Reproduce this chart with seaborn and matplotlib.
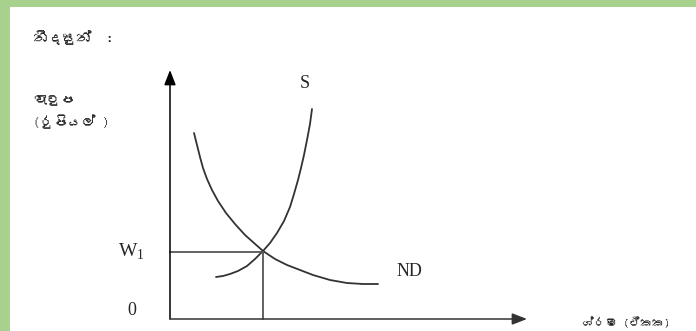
import matplotlib
matplotlib.use("Agg")
import matplotlib.pyplot as plt
import matplotlib.font_manager as fm
import seaborn as sns
import pandas as pd
from fontTools.ttLib import TTFont

# supply (S) and labour demand (ND) curves
# quantity of labour / wage, origin at the corner of the axes
s_qty = [46, 53, 60, 68, 77, 85, 93, 100, 107, 114, 120, 124, 128, 131, 134, 137, 140, 142]
s_wage = [42, 43, 45, 48, 53, 60, 68, 76, 86, 98, 112, 125, 139, 151, 164, 179, 195, 210]
nd_qty = [24, 27, 30, 33, 37, 42, 48, 56, 65, 75, 84, 93, 105, 117, 130, 143, 160, 177, 193, 208]
nd_wage = [186, 174, 162, 151, 140, 129, 118, 106, 95, 84, 76, 68, 60, 54, 49, 44, 39, 36, 35, 35]
eq_qty, eq_wage = 93, 67

title_txt = "නිදසුන්  :"
ylab_txt = ["වැටුප", "(රුපියල් )"]
xlab_txt = "ශ්රම (ඒකක)"


def find_sinhala():
    for f in fm.fontManager.ttflist:
        try:
            cmap = TTFont(f.fname, fontNumber=0, lazy=True).getBestCmap()
            if cmap and 0x0DB1 in cmap:
                return f.name
        except Exception:
            pass
    return None


sin_font = find_sinhala()
sin_family = [sin_font, "DejaVu Sans"] if sin_font else ["DejaVu Sans"]

sns.set_style("white")
plt.rcParams["mathtext.fontset"] = "custom"
plt.rcParams["mathtext.rm"] = "Liberation Serif"

fig = plt.figure(figsize=(6.96, 3.31), dpi=100, facecolor="#a9d18e")
ax = fig.add_axes([10 / 696, 0, 686 / 696, 324 / 331])
ax.set_facecolor("white")
ax.set_xlim(-160, 526)
ax.set_ylim(-12, 312)
ax.axis("off")
ax.add_patch(plt.Rectangle((-160, -12), 686, 324, color="white", zorder=0))

s_df = pd.DataFrame({"q": s_qty, "w": s_wage})
nd_df = pd.DataFrame({"q": nd_qty, "w": nd_wage})
sns.lineplot(data=s_df, x="q", y="w", sort=False, color="#333333", lw=1.3, ax=ax,
             solid_joinstyle="round")
sns.lineplot(data=nd_df, x="q", y="w", sort=False, color="#333333", lw=1.3, ax=ax,
             solid_joinstyle="round")

# guide lines to the equilibrium
ax.plot([0, eq_qty], [eq_wage, eq_wage], color="#555555", lw=1.3)
ax.plot([eq_qty, eq_qty], [0, eq_wage], color="#555555", lw=1.3)

# axes with arrows
arr = dict(arrowstyle="-|>,head_length=0.9,head_width=0.35", color="black", lw=1.1,
           shrinkA=0, shrinkB=0)
ax.annotate("", xy=(0, 249), xytext=(0, 0), arrowprops=arr)
ax.annotate("", xy=(357, 0), xytext=(0, 0), arrowprops=dict(arr, color="#333333"))

serif = "Liberation Serif"
ax.text(-38, 0, "0", family=serif, fontsize=13, ha="center", va="bottom")
ax.text(-25, eq_wage, r"$\mathrm{W}_\mathrm{1}$", fontsize=14, ha="right", va="center")
ax.text(135, 236, "S", family=serif, fontsize=13, ha="center", va="center")
ax.text(239, 47, "ND", family=serif, fontsize=13, ha="center", va="center")

ax.text(-137, 281, title_txt, family=sin_family, fontsize=10.5, ha="left", va="center")
ax.text(-137, 219, ylab_txt[0], family=sin_family, fontsize=10, ha="left", va="center")
ax.text(-137, 197, ylab_txt[1], family=sin_family, fontsize=10, ha="left", va="center")
ax.text(412, -3, xlab_txt, family=sin_family, fontsize=8.5, ha="left", va="center")

fig.savefig("out.png", dpi=100, facecolor=fig.get_facecolor())
